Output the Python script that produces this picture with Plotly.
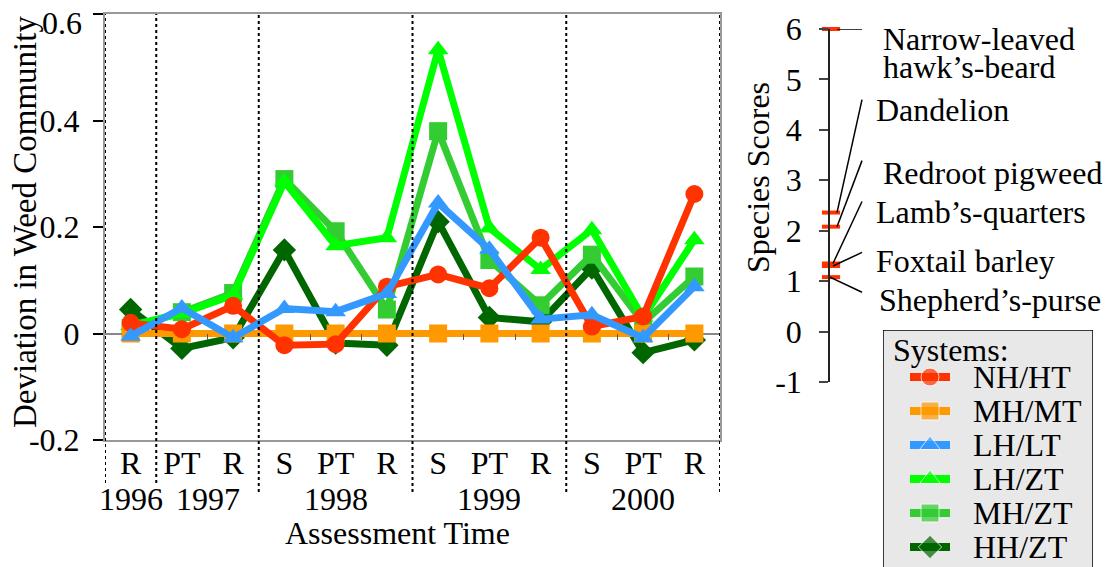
import plotly.graph_objects as go

W, H = 1107, 567
FONT = "Liberation Serif"

# ---------------- data ----------------
times = ["R", "PT", "R", "S", "PT", "R", "S", "PT", "R", "S", "PT", "R"]
point_years = ["1996", "1997", "1997", "1998", "1998", "1998",
               "1999", "1999", "1999", "2000", "2000", "2000"]
years = ["1996", "1997", "1998", "1999", "2000"]

nh_ht = [0.020, 0.008, 0.052, -0.022, -0.020, 0.088, 0.111, 0.085, 0.180, 0.013, 0.032, 0.262]
mh_mt = [0.000, 0.000, 0.000, 0.000, 0.000, 0.000, 0.000, 0.000, 0.000, 0.000, 0.000, 0.000]
lh_lt = [-0.005, 0.048, -0.008, 0.047, 0.041, 0.075, 0.245, 0.158, 0.027, 0.035, -0.008, 0.088]
lh_zt = [0.015, 0.038, 0.072, 0.285, 0.165, 0.180, 0.533, 0.198, 0.120, 0.195, 0.030, 0.176]
mh_zt = [0.010, 0.040, 0.076, 0.290, 0.192, 0.045, 0.380, 0.138, 0.053, 0.148, 0.020, 0.107]
hh_zt = [0.045, -0.028, -0.008, 0.157, -0.018, -0.022, 0.210, 0.030, 0.022, 0.123, -0.036, -0.012]

system_names = ["NH/HT", "MH/MT", "LH/LT", "LH/ZT", "MH/ZT", "HH/ZT"]

species = ["Narrow-leaved<br>hawk’s-beard", "Dandelion", "Redroot pigweed",
           "Lamb’s-quarters", "Foxtail barley", "Shepherd’s-purse"]
species_scores = [6.00, 2.36, 2.08, 1.35, 1.30, 1.08]

y_ticks = [-0.2, 0, 0.2, 0.4, 0.6]
y_ticktext = ["-0.2", "0", "0.2", "0.4", "0.6"]
s_ticks = [-1, 0, 1, 2, 3, 4, 5, 6]
s_ticktext = ["-1", "0", "1", "2", "3", "4", "5", "6"]

# ---------------- styles / layout helpers ----------------
series = {
    "NH/HT": (nh_ht, "#ff3300", "circle"),
    "MH/MT": (mh_mt, "#ff9900", "square"),
    "LH/LT": (lh_lt, "#3399ff", "triangle-up"),
    "LH/ZT": (lh_zt, "#00ff00", "triangle-up"),
    "MH/ZT": (mh_zt, "#33cc33", "square"),
    "HH/ZT": (hh_zt, "#006600", "diamond"),
}
draw_order = ["HH/ZT", "MH/ZT", "LH/ZT", "MH/MT", "NH/HT", "LH/LT"]
LW, MS = 7, 18
FS = 32

idx = list(range(len(times)))
year_centres = []
for y in years:
    members = [i for i, py in enumerate(point_years) if py == y]
    year_centres.append(sum(members) / len(members))
boundaries = [-0.5] + [i + 0.5 for i in range(len(point_years) - 1)
                       if point_years[i] != point_years[i + 1]] + [len(times) - 0.5]
boundary_bottom_px = [483, 483, 492, 492, 492, 492]
minor_ticks = [i + 0.5 for i in range(len(point_years) - 1)
               if point_years[i] == point_years[i + 1]]


def px_x(p):
    return p / W


def px_y(p):
    return 1 - p / H


fig = go.Figure()

for name in draw_order:
    vals, color, sym = series[name]
    fig.add_trace(go.Scatter(
        x=idx, y=vals, mode="lines+markers", name=name,
        line=dict(color=color, width=LW),
        marker=dict(symbol=sym, size=MS, color=color),
        cliponaxis=False, xaxis="x", yaxis="y", showlegend=False,
    ))

# invisible trace hosting the minor-tick axis drawn on the zero line
fig.add_trace(go.Scatter(x=[], y=[], xaxis="x3", yaxis="y", showlegend=False, hoverinfo="skip"))

# species marks on the score axis
fig.add_trace(go.Scatter(
    x=[1] * len(species_scores), y=species_scores, mode="markers",
    marker=dict(symbol="line-ew", size=13, line=dict(color="#ff3300", width=4)),
    xaxis="x2", yaxis="y2", showlegend=False, cliponaxis=False, hoverinfo="skip",
))

# leader lines (x2 in px-like units, y2 in score units)
leader_start_x = [7, 7, 7, 3, 3, 0]
leader_end_x = 32
leader_end_y = [6.00, 4.60, 3.39, 2.58, 1.57, 0.78]
lx, ly = [], []
for sx, sc, ey in zip(leader_start_x, species_scores, leader_end_y):
    lx += [sx, leader_end_x, None]
    ly += [sc, ey, None]
fig.add_trace(go.Scatter(x=lx, y=ly, mode="lines", line=dict(color="black", width=1.5),
                         xaxis="x2", yaxis="y2", showlegend=False, cliponaxis=False,
                         hoverinfo="skip"))

label_x = [51, 44, 51, 44, 44, 47]
label_y = [5.80, 4.40, 3.15, 2.38, 1.39, 0.62]
line_step = 0.56  # vertical step (score units) between wrapped label lines

# ---- legend panel (own small subplot, px-like units) ----
leg_left, leg_right, leg_top = 883, 1093, 330
row_y = [377, 411, 445, 479, 513, 547]
sym_x = [910, 930, 950]
for name, ry in zip(system_names, row_y):
    vals, color, sym = series[name]
    fig.add_trace(go.Scatter(
        x=sym_x, y=[ry] * 3, mode="lines+markers",
        line=dict(color=color, width=LW + 1),
        marker=dict(symbol=sym, size=[0, MS, 0], color=color),
        xaxis="x4", yaxis="y4", showlegend=False, cliponaxis=False, hoverinfo="skip",
    ))

TXT = dict(family=FONT, size=FS, color="black")
annotations = []
for name, ry in zip(system_names, row_y):
    annotations.append(dict(text=name, x=971, y=ry, xref="x4", yref="y4",
                            xanchor="left", yanchor="middle", showarrow=False, font=TXT))
annotations.append(dict(text="Systems:", x=891, y=350, xref="x4", yref="y4",
                        xanchor="left", yanchor="middle", showarrow=False, font=TXT))

for name, lxp, lyp in zip(species, label_x, label_y):
    for k, part in enumerate(name.split("<br>")):
        annotations.append(dict(text=part, x=lxp, y=lyp - k * line_step, xref="x2", yref="y2",
                                xanchor="left", yanchor="middle", align="left",
                                showarrow=False, font=TXT))
for y, c in zip(years, year_centres):
    annotations.append(dict(text=y, x=c, y=px_y(499), xref="x", yref="paper",
                            xanchor="center", yanchor="middle", showarrow=False, font=TXT))
annotations.append(dict(text="Assessment Time", x=px_x(397), y=px_y(533), xref="paper",
                        yref="paper", xanchor="center", yanchor="middle", showarrow=False,
                        font=TXT))
annotations.append(dict(text="Deviation in Weed Community", x=px_x(25), y=px_y(222),
                        xref="paper", yref="paper", xanchor="center", yanchor="middle",
                        textangle=-90, showarrow=False,
                        font=dict(family=FONT, size=33, color="black")))
annotations.append(dict(text="Species Scores", x=px_x(758), y=px_y(178),
                        xref="paper", yref="paper", xanchor="center", yanchor="middle",
                        textangle=-90, showarrow=False, font=TXT))
# top y tick label nudged down to stay inside the page (as in the reference)
annotations.append(dict(text=y_ticktext[-1], x=px_x(84), y=y_ticks[-1], xref="paper",
                        yref="y", xanchor="right", yanchor="middle", yshift=-9,
                        showarrow=False, font=TXT))
y_ticktext_axis = y_ticktext[:-1] + [""]

shapes = []
for b, bp in zip(boundaries, boundary_bottom_px):
    shapes.append(dict(type="line", xref="x", yref="paper", x0=b, x1=b,
                       y0=px_y(bp), y1=px_y(14),
                       line=dict(color="black", width=2, dash="dot"), layer="above"))
shapes.append(dict(type="rect", xref="x4", yref="y4", x0=leg_left, x1=leg_right,
                   y0=leg_top, y1=leg_top + 260, fillcolor="#e8e8e8",
                   line=dict(color="black", width=1.5), layer="below"))

fig.update_layout(
    width=W, height=H, margin=dict(l=0, r=0, t=0, b=0, autoexpand=False),
    paper_bgcolor="white", plot_bgcolor="rgba(0,0,0,0)",
    font=dict(family=FONT, size=FS, color="black"),
    showlegend=False,
    xaxis=dict(
        domain=[px_x(105), px_x(720)], range=[-0.5, len(times) - 0.5],
        tickvals=idx, ticktext=times, tickfont=dict(family=FONT, size=FS),
        ticks="", ticklabelstandoff=-6, automargin=False, ticklabeloverflow="allow",
        showline=True, linecolor="#999999", linewidth=2, mirror=True,
        showgrid=False, zeroline=False, anchor="y",
    ),
    xaxis3=dict(
        overlaying="x", anchor="free", position=px_y(333), automargin=False,
        range=[-0.5, len(times) - 0.5], tickvals=minor_ticks,
        ticks="outside", ticklen=6, tickwidth=1.2, tickcolor="#555555",
        showticklabels=False, showline=False, showgrid=False, zeroline=False,
    ),
    yaxis=dict(
        domain=[px_y(440), px_y(14)], range=[-0.2, 0.6],
        tickvals=y_ticks, ticktext=y_ticktext_axis, tickfont=dict(family=FONT, size=FS),
        ticks="outside", ticklen=10, tickwidth=1.5, tickcolor="black",
        ticklabelstandoff=7, automargin=False, ticklabeloverflow="allow",
        showline=True, linecolor="#999999", linewidth=2, mirror=True,
        showgrid=False, zeroline=True, zerolinecolor="#888888", zerolinewidth=1.5,
        anchor="x",
    ),
    xaxis2=dict(domain=[px_x(830), 1], range=[0, W - 830], visible=False, anchor="y2",
                automargin=False),
    yaxis2=dict(
        domain=[px_y(382), px_y(29)], range=[-1, 6], anchor="x2",
        tickvals=s_ticks, ticktext=s_ticktext, tickfont=dict(family=FONT, size=FS),
        ticks="outside", ticklen=9, tickwidth=1.5, tickcolor="#444444",
        ticklabelstandoff=11, automargin=False, ticklabeloverflow="allow",
        showline=True, linecolor="#222222", linewidth=1.5,
        showgrid=False, zeroline=False,
    ),
    xaxis4=dict(domain=[px_x(leg_left), px_x(leg_right)], range=[leg_left, leg_right],
                visible=False, anchor="y4", automargin=False),
    yaxis4=dict(domain=[0, px_y(leg_top)], range=[H, leg_top], visible=False, anchor="x4",
                automargin=False),
    annotations=annotations, shapes=shapes,
)

fig.write_html("out.html")
